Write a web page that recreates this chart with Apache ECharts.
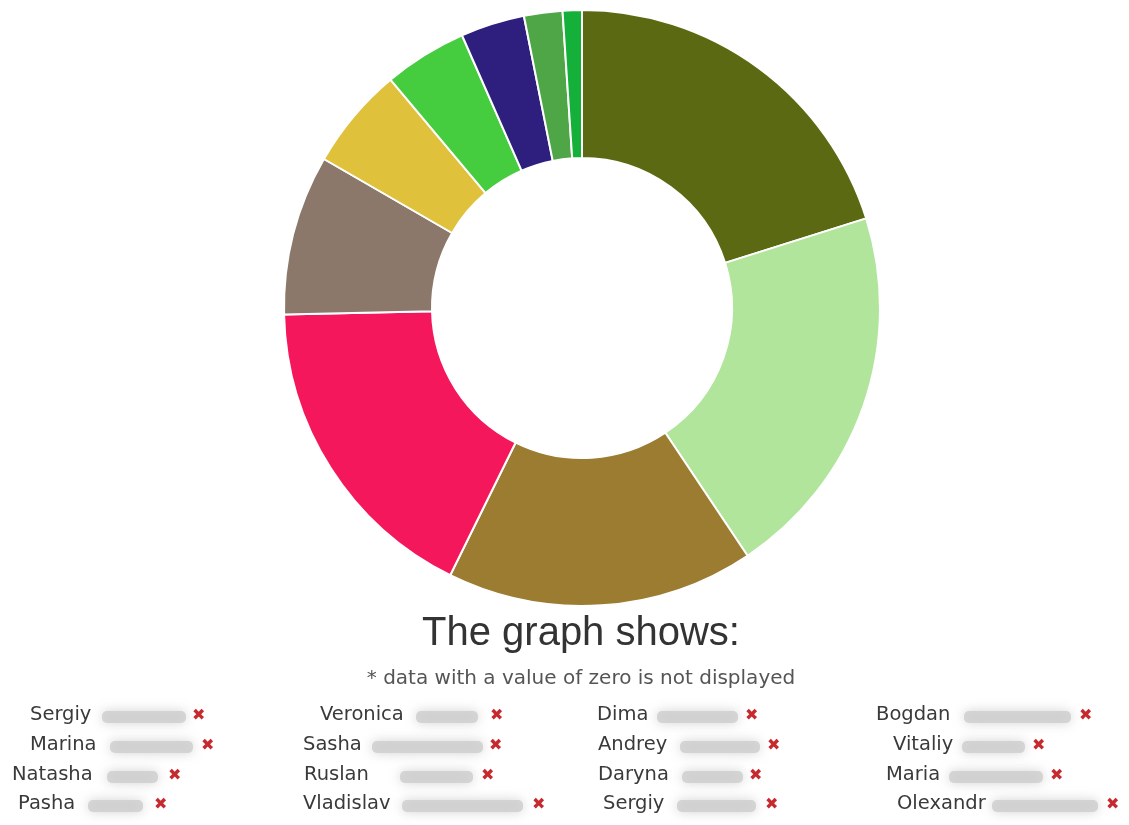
<!DOCTYPE html>
<html>
<head>
<meta charset="utf-8">
<title>The graph shows</title>
<script src="https://cdn.jsdelivr.net/npm/echarts@6/dist/echarts.min.js"></script>
<style>
  html, body { margin: 0; padding: 0; background: #fff; }
  #chart { width: 1129px; height: 825px; }
</style>
</head>
<body>
<div id="chart"></div>
<script>
// slices, clockwise from 12 o'clock
const sliceNames = ['Sergiy', 'Marina', 'Natasha', 'Pasha', 'Veronica', 'Sasha', 'Ruslan', 'Vladislav', 'Dima', 'Andrey']
const sliceValues = [58, 59, 48, 50, 25, 16, 13, 10, 6, 3]
const sliceColors = ['#5b6913', '#b0e59b', '#9b7c31', '#f5175b', '#8b786a', '#e0c13b', '#46cc3f', '#2e1f7e', '#4ea646', '#14b03a']

// people list under the chart (surnames are blurred in the source)
const people = [
  'Sergiy', 'Marina', 'Natasha', 'Pasha',
  'Veronica', 'Sasha', 'Ruslan', 'Vladislav',
  'Dima', 'Andrey', 'Daryna', 'Sergiy',
  'Bogdan', 'Vitaliy', 'Maria', 'Olexandr'
]

const titleText = 'The graph shows:'
const noteText = '* data with a value of zero is not displayed'

// layout of the list: [name x, blur x, blur width, cross x]
const listLayout = [
  [30, 100, 88, 200], [30, 108, 87, 209], [12, 105, 55, 176], [18, 86, 59, 162],
  [320, 414, 66, 498], [303, 370, 115, 497], [304, 398, 77, 489], [303, 400, 125, 540],
  [597, 655, 85, 753], [598, 678, 84, 775], [598, 680, 65, 757], [603, 675, 83, 773],
  [876, 962, 111, 1087], [893, 960, 67, 1040], [886, 947, 98, 1058], [897, 990, 110, 1114]
]
const rowY = [717, 747, 777, 806]

const font = '"Liberation Sans", Arial, Helvetica, sans-serif'
const listFont = '"DejaVu Sans", Verdana, sans-serif'

const graphics = []
people.forEach((name, i) => {
  const row = i % 4
  const [nx, bx, bw, cx] = listLayout[i]
  const y = rowY[row]
  graphics.push({
    type: 'text',
    left: nx,
    top: y - 12,
    style: { text: name, fill: '#3a3a3a', font: '19.5px ' + listFont }
  })
  graphics.push({
    type: 'rect',
    shape: { x: bx + 2, y: y - 6, width: bw - 4, height: 12, r: 5 },
    style: { fill: '#cdcdcd', shadowBlur: 12, shadowColor: '#c8c8c8', opacity: 0.8 }
  })
  graphics.push({
    type: 'text',
    left: cx - 8,
    top: y - 9,
    style: { text: '✖', fill: '#c62a2f', font: 'bold 16px "DejaVu Sans", sans-serif' }
  })
})

const chart = echarts.init(document.getElementById('chart'))
chart.setOption({
  animation: false,
  backgroundColor: '#fff',
  title: [
    {
      text: titleText,
      left: 576,
      top: 609,
      textAlign: 'center',
      textStyle: { color: '#333', fontSize: 40, fontWeight: 'normal', fontFamily: font }
    },
    {
      text: noteText,
      left: 576,
      top: 664,
      textAlign: 'center',
      textStyle: { color: '#555', fontSize: 20, fontWeight: 'normal', fontFamily: listFont }
    }
  ],
  tooltip: { show: false },
  series: [
    {
      type: 'pie',
      center: [582, 308],
      radius: [150, 298],
      startAngle: 90,
      clockwise: true,
      label: { show: false },
      labelLine: { show: false },
      itemStyle: { borderColor: '#fff', borderWidth: 2 },
      emphasis: { disabled: true },
      data: sliceValues.map((v, i) => ({
        name: sliceNames[i],
        value: v,
        itemStyle: { color: sliceColors[i] }
      }))
    }
  ],
  graphic: graphics
})
</script>
</body>
</html>
